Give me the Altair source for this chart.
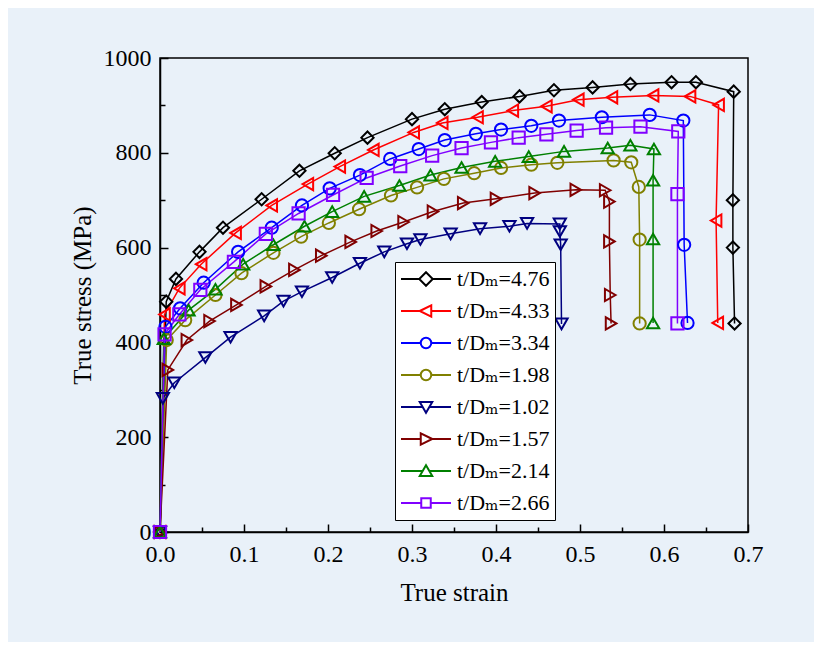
import altair as alt
import pandas as pd

# ---------------- data ----------------
labels = ["t/Dₘ=4.76", "t/Dₘ=4.33", "t/Dₘ=3.34", "t/Dₘ=1.98",
          "t/Dₘ=1.02", "t/Dₘ=1.57", "t/Dₘ=2.14", "t/Dₘ=2.66"]
colors = ["#000000", "#ff0000", "#0000ff", "#808000",
          "#000080", "#800000", "#008000", "#8000ff"]
shapes = ["diamond", "triangle-left", "circle", "circle",
          "triangle-down", "triangle-right", "triangle-up", "square"]

strain_476 = [0, 0.0074, 0.019, 0.047, 0.075, 0.121, 0.166, 0.208, 0.247, 0.300, 0.339,
              0.383, 0.428, 0.469, 0.515, 0.560, 0.609, 0.638, 0.683, 0.682, 0.682, 0.684]
stress_476 = [0, 486, 534, 591, 642, 702, 762, 799, 832, 871, 892,
              907, 919, 932, 938, 945, 949, 949, 929, 700, 600, 440]

strain_433 = [0, 0.0054, 0.023, 0.049, 0.090, 0.133, 0.176, 0.214, 0.254, 0.302, 0.336,
              0.378, 0.420, 0.460, 0.498, 0.538, 0.587, 0.631, 0.665, 0.662, 0.664]
stress_433 = [0, 459, 514, 565, 631, 689, 734, 771, 806, 843, 863,
              875, 889, 898, 912, 917, 921, 919, 901, 657, 441]

strain_334 = [0, 0.0065, 0.024, 0.052, 0.093, 0.133, 0.169, 0.202, 0.238, 0.274, 0.308,
              0.339, 0.376, 0.406, 0.442, 0.475, 0.526, 0.583, 0.623, 0.624, 0.628]
stress_334 = [0, 433, 472, 526, 591, 642, 689, 725, 753, 787, 808,
              827, 840, 849, 857, 868, 875, 880, 868, 606, 441]

strain_198 = [0, 0.008, 0.030, 0.066, 0.097, 0.135, 0.168, 0.201, 0.237, 0.275, 0.306,
              0.338, 0.374, 0.406, 0.442, 0.473, 0.540, 0.561, 0.570, 0.571, 0.571]
stress_198 = [0, 405, 447, 500, 546, 589, 623, 652, 681, 710, 727,
              745, 757, 768, 775, 779, 784, 780, 728, 617, 440]

strain_102 = [0, 0.0034, 0.017, 0.054, 0.084, 0.124, 0.147, 0.169, 0.205, 0.238, 0.267,
              0.294, 0.310, 0.346, 0.381, 0.416, 0.437, 0.476, 0.476, 0.477, 0.478]
stress_102 = [0, 282, 315, 368, 411, 456, 487, 507, 537, 567, 591,
              608, 617, 629, 640, 645, 651, 650, 634, 606, 439]

strain_157 = [0, 0.0093, 0.032, 0.059, 0.091, 0.126, 0.160, 0.192, 0.227, 0.258, 0.290,
              0.325, 0.361, 0.400, 0.446, 0.495, 0.530, 0.535, 0.535, 0.536, 0.537]
stress_157 = [0, 342, 405, 445, 479, 518, 553, 583, 612, 635, 654,
              676, 694, 703, 715, 722, 721, 697, 613, 500, 440]

strain_214 = [0, 0.0045, 0.034, 0.066, 0.099, 0.135, 0.172, 0.205, 0.243, 0.285, 0.322,
              0.359, 0.399, 0.439, 0.481, 0.533, 0.560, 0.588, 0.587, 0.587, 0.587]
stress_214 = [0, 408, 468, 512, 565, 606, 645, 676, 708, 731, 753,
              769, 782, 792, 803, 810, 816, 808, 742, 618, 441]

strain_266 = [0, 0.0054, 0.023, 0.048, 0.088, 0.126, 0.165, 0.206, 0.246, 0.286, 0.324,
              0.359, 0.394, 0.427, 0.460, 0.496, 0.531, 0.572, 0.617, 0.616, 0.616]
stress_266 = [0, 417, 459, 511, 570, 629, 672, 711, 747, 772, 794,
              810, 822, 832, 839, 847, 853, 855, 845, 713, 440]

x_major = [0, 0.1, 0.2, 0.3, 0.4, 0.5, 0.6, 0.7]
x_minor = [0.05, 0.15, 0.25, 0.35, 0.45, 0.55, 0.65]
y_major = [0, 200, 400, 600, 800, 1000]
y_minor = [100, 300, 500, 700, 900]

strains = [strain_476, strain_433, strain_334, strain_198,
           strain_102, strain_157, strain_214, strain_266]
stresses = [stress_476, stress_433, stress_334, stress_198,
            stress_102, stress_157, stress_214, stress_266]

rows = []
for name, xs, ys in zip(labels, strains, stresses):
    for i, (xv, yv) in enumerate(zip(xs, ys)):
        rows.append({"series": name, "idx": i, "strain": xv, "stress": yv})
df = pd.DataFrame(rows)

# legend symbols: a line with the marker in the middle (unit box -1..1)
def lp(marker, gl, gr):
    return f"M-1,0L{-gl},0M{gr},0L1,0{marker}"

legend_paths = [
    lp("M0,-0.27L0.27,0L0,0.27L-0.27,0Z", 0.27, 0.27),
    lp("M-0.25,0L0.21,-0.23L0.21,0.23Z", 0.25, 0.21),
    lp("M-0.21,0A0.21,0.21,0,1,0,0.21,0A0.21,0.21,0,1,0,-0.21,0Z", 0.21, 0.21),
    lp("M-0.21,0A0.21,0.21,0,1,0,0.21,0A0.21,0.21,0,1,0,-0.21,0Z", 0.21, 0.21),
    lp("M-0.25,-0.2L0.25,-0.2L0,0.23Z", 0.13, 0.13),
    lp("M0.25,0L-0.21,-0.23L-0.21,0.23Z", 0.21, 0.25),
    lp("M-0.25,0.2L0.25,0.2L0,-0.23Z", 0.13, 0.13),
    lp("M-0.19,-0.19L0.19,-0.19L0.19,0.19L-0.19,0.19Z", 0.19, 0.19),
]

FONT = "Liberation Serif"
LEGEND_FONT = "Liberation Serif, DejaVu Serif, serif"

xscale = alt.Scale(domain=[0, 0.7], nice=False, zero=False)
yscale = alt.Scale(domain=[0, 1000], nice=False, zero=False)
cscale = alt.Scale(domain=labels, range=colors)

axis_common = dict(labelFont=FONT, labelFontSize=24, labelColor="black",
                   titleFont=FONT, titleFontSize=25, titleColor="black",
                   titleFontWeight="normal", domainColor="black", domainWidth=1.5,
                   tickColor="black", tickWidth=1.5, grid=False, labelFlush=False)

x_axis_major = alt.Axis(values=x_major, format=".1f", title="True strain", orient="bottom",
                        tickSize={"expr": "-8"}, labelPadding=18, titlePadding=14,
                        **axis_common)
y_axis_major = alt.Axis(values=y_major, format="d", title="True stress (MPa)", orient="left",
                        tickSize={"expr": "-8"}, labelPadding=17, titlePadding=8,
                        **axis_common)
x_axis_minor = alt.Axis(values=x_minor, labels=False, title=None, orient="bottom",
                        tickSize={"expr": "-5"}, domain=False, tickColor="black",
                        tickWidth=1.5, grid=False)
y_axis_minor = alt.Axis(values=y_minor, labels=False, title=None, orient="left",
                        tickSize={"expr": "-5"}, domain=False, tickColor="black",
                        tickWidth=1.5, grid=False)

lines = alt.Chart(df).mark_line(strokeWidth=1.5).encode(
    x=alt.X("strain:Q", scale=xscale, axis=x_axis_major),
    y=alt.Y("stress:Q", scale=yscale, axis=y_axis_major),
    color=alt.Color("series:N", scale=cscale, legend=None),
    detail="series:N",
    order=alt.Order("idx:Q"),
)

points = alt.Chart(df).mark_point(size=150, strokeWidth=2, opacity=1, filled=False).encode(
    x=alt.X("strain:Q", scale=xscale, axis=x_axis_minor),
    y=alt.Y("stress:Q", scale=yscale, axis=y_axis_minor),
    color=alt.Color("series:N", scale=cscale, legend=None),
    shape=alt.Shape("series:N", scale=alt.Scale(domain=labels, range=shapes), legend=None),
)

legend_props = dict(orient="none", legendX=235, legendY=204, title=None,
                    fillColor="white", strokeColor="black", padding=5,
                    labelFont=LEGEND_FONT, labelFontSize=22, labelColor="black",
                    labelOffset=5, rowPadding=8, symbolSize=2500, clipHeight=24,
                    symbolStrokeWidth=2, labelLimit=300)

legend_layer = alt.Chart(df).transform_filter("false").mark_point(
    size=2500, strokeWidth=2, opacity=1, filled=False
).encode(
    color=alt.Color("series:N", scale=cscale, legend=alt.Legend(**legend_props)),
    shape=alt.Shape("series:N", scale=alt.Scale(domain=labels, range=legend_paths),
                    legend=alt.Legend(**legend_props)),
)

chart = alt.layer(lines, points, legend_layer).resolve_scale(
    color="independent", shape="independent"
).resolve_axis(
    x="independent", y="independent"
).properties(
    width=588, height=474,
    autosize=alt.AutoSizeParams(type="none"),
    padding={"left": 152, "top": 50, "right": 66, "bottom": 110},
    background="#e9f1f9",
).configure_view(
    stroke="black", strokeWidth=1.5
).configure_legend(
    labelFont=LEGEND_FONT, labelFontSize=22
)

chart.save("out.html", embed_options={"renderer": "svg", "actions": False})
